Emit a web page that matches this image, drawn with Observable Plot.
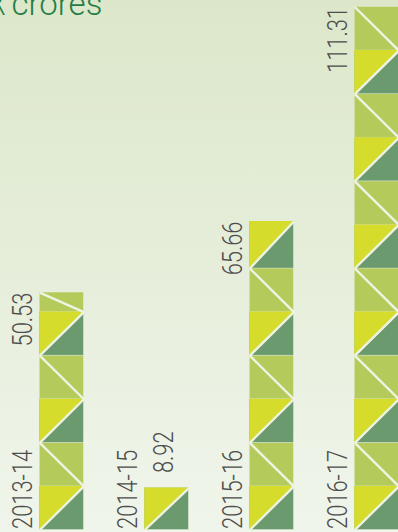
<!DOCTYPE html>
<html><head><meta charset="utf-8">
<script src="https://cdn.jsdelivr.net/npm/d3@7"></script>
<script src="https://cdn.jsdelivr.net/npm/@observablehq/plot@0.6"></script>
<style>
html,body{margin:0;padding:0;}
body{width:398px;height:532px;overflow:hidden;background:linear-gradient(to bottom,#dce7ca,#f0f5eb);}
#chart svg{display:block;}
</style></head><body><div id="chart"></div>
<script>
const years = ["2013-14", "2014-15", "2015-16", "2016-17"];
const values = [50.53, 8.92, 65.66, 111.31];
const unitSymbol = "₹";
const unitName = "crores";

const colors = {light: "#b4cb5c", yellow: "#d5dc2b", dark: "#6a9a6e", line: "#eef3e2", text: "#4d4d4d", title: "#247d48"};
const CELL = d3.max(values) / 12;   // data units per square tile
const BARW = 0.42;                   // bar width in x-index units

const bars = years.map((year, i) => ({year, value: values[i], i}));
const cells = [];
bars.forEach(b => {
  const n = Math.max(1, Math.ceil(b.value / CELL - 0.2));
  for (let k = 0; k < n; k++) {
    cells.push({id: b.year + "-" + k, k, x1: b.i, x2: b.i + BARW,
      y1: k * CELL, y2: k === n - 1 ? b.value : (k + 1) * CELL});
  }
});
const tris = cells.filter(c => c.k % 2 === 0).flatMap(c => [
  {id: c.id, x: c.x1, lo: c.y1, hi: c.y2},
  {id: c.id, x: c.x2, lo: c.y2, hi: c.y2}
]);

const font = "Roboto, 'Liberation Sans', sans-serif";
const svg = Plot.plot({
  width: 398, height: 532, margin: 0,
  x: {domain: [0, 4], range: [39.3, 459.3], axis: null},
  y: {domain: [0, d3.max(values)], range: [529.5, 6.5], axis: null},
  style: {background: "transparent", overflow: "hidden"},
  marks: [
    Plot.rect(cells, {x1: "x1", x2: "x2", y1: "y1", y2: "y2",
      fill: d => d.k % 2 === 0 ? colors.dark : colors.light,
      stroke: colors.line, strokeWidth: 0.7, strokeOpacity: 0.5}),
    Plot.areaY(tris, {x: "x", y1: "lo", y2: "hi", z: "id", fill: colors.yellow, curve: "linear"}),
    Plot.link(cells, {
      x1: "x1", x2: "x2",
      y1: d => d.k % 2 === 0 ? d.y1 : d.y2,
      y2: d => d.k % 2 === 0 ? d.y2 : d.y1,
      stroke: colors.line, strokeWidth: 2.4}),
    Plot.text(bars, {x: "i", y: d => 0, text: "year", rotate: -90, textAnchor: "start",
      dx: -17, dy: -1, fontSize: 27.4, fontWeight: 300, fontFamily: font, fill: colors.text}),
    Plot.text(bars.filter(d => d.value >= 20), {x: "i", y: "value", text: d => d.value.toFixed(2),
      rotate: -90, textAnchor: "end", dx: -17, dy: 0, fontSize: 27.4, fontWeight: 300, fontFamily: font, fill: colors.text}),
    Plot.text(bars.filter(d => d.value < 20), {x: "i", y: "value", text: d => d.value.toFixed(2),
      rotate: -90, textAnchor: "start", dx: 19, dy: -15, fontSize: 27.4, fontWeight: 300, fontFamily: font, fill: colors.text}),
    Plot.text([unitSymbol], {frameAnchor: "top-left", text: d => d, textAnchor: "end", lineAnchor: "bottom",
      dx: 8, dy: 14, fontSize: 33, fontWeight: 300, fontFamily: "'DejaVu Sans', sans-serif", fill: colors.title}),
    Plot.text([unitName], {frameAnchor: "top-left", text: d => d, textAnchor: "start", lineAnchor: "bottom",
      dx: 11, dy: 14, fontSize: 33, fontWeight: 300, fontFamily: font, fill: colors.title})
  ]
});
d3.select(svg).selectAll("text").each(function() {
  const t = this.getAttribute("transform");
  if (t && t.includes("rotate")) this.setAttribute("transform", t + " scale(0.8,1)");
});
document.getElementById("chart").appendChild(svg);
</script></body></html>
